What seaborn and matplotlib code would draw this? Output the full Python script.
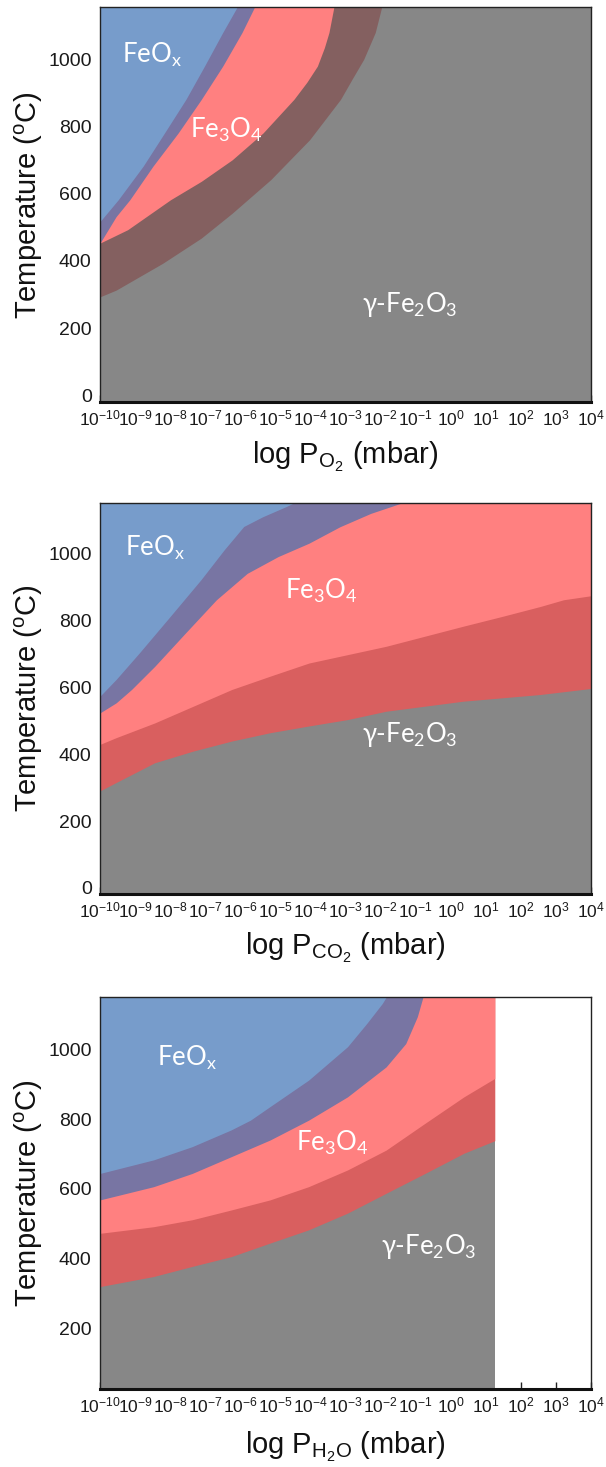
import numpy as np
import matplotlib
matplotlib.use("Agg")
import matplotlib.pyplot as plt
import matplotlib.ticker as mticker
import seaborn as sns

sns.set_theme(style="ticks")
plt.rcParams['font.family'] = ['Liberation Sans', 'DejaVu Sans']
plt.rcParams['mathtext.fontset'] = 'custom'
plt.rcParams['mathtext.rm'] = 'Liberation Sans'
plt.rcParams['mathtext.it'] = 'Liberation Sans:italic'

# ---------------- data (log10 P in mbar, temperature in C) ----------------
# Panel 1: O2
o2_feox_logp = [-10, -9.48, -8.77, -8.16, -7.55, -7.02, -6.50, -6.12, -5.6]
o2_feox_T    = [517, 582, 682, 781, 881, 980, 1080, 1150, 1250]
o2_mix1_logp = [-10, -9.54, -9.15, -8.49, -7.77, -7.11, -6.50, -5.95, -5.62, -5.2]
o2_mix1_T    = [453, 532, 582, 682, 781, 881, 980, 1080, 1150, 1250]
o2_fe3o4_logp = [-10, -9.21, -7.99, -7.11, -6.23, -5.35, -4.47, -4.1, -3.80, -3.6, -3.47, -3.34, -3.1]
o2_fe3o4_T    = [453, 493, 582, 637, 701, 781, 881, 932, 980, 1035, 1080, 1150, 1300]
o2_mix2_logp = [-10, -9.54, -8.21, -7.11, -6.23, -5.13, -4.02, -3.14, -2.8, -2.48, -2.15, -1.98, -1.8]
o2_mix2_T    = [293, 313, 393, 468, 542, 642, 761, 881, 943, 1000, 1080, 1150, 1300]
o2_end_logp = 4

# Panel 2: CO2
co2_feox_logp = [-10, -9.54, -8.88, -8.0, -7.12, -6.46, -5.9, -5.36, -4.7, -4.48, -4.0]
co2_feox_T    = [573, 623, 702, 811, 921, 1010, 1080, 1109, 1139, 1150, 1180]
co2_mix1_logp = [-10, -9.54, -9.1, -8.44, -7.56, -6.68, -5.8, -4.92, -4.04, -3.16, -2.28, -1.4, -0.8]
co2_mix1_T    = [523, 553, 593, 662, 762, 861, 940, 990, 1030, 1079, 1119, 1150, 1175]
co2_fe3o4_logp = [-10, -9.54, -8.44, -7.34, -6.24, -5.14, -4.04, -2.94, -1.84, -0.74, 0.36, 1.46, 2.56, 3.22, 4]
co2_fe3o4_T    = [429, 449, 493, 543, 593, 633, 672, 697, 722, 752, 782, 811, 841, 861, 873]
co2_mix2_logp = [-10, -9.54, -8.44, -7.34, -6.24, -5.14, -4.04, -2.94, -1.84, -0.74, 0.36, 1.46, 2.56, 4]
co2_mix2_T    = [290, 315, 374, 409, 439, 464, 484, 503, 528, 543, 558, 568, 578, 596]
co2_end_logp = 4

# Panel 3: H2O
h2o_feox_logp = [-10, -8.47, -7.37, -6.26, -5.71, -5.15, -4.05, -2.94, -2.39, -1.95, -1.84, -1.7]
h2o_feox_T    = [644, 683, 721, 769, 797, 836, 912, 1008, 1075, 1132, 1150, 1175]
h2o_mix1_logp = [-10, -8.47, -7.37, -6.26, -5.15, -4.05, -2.94, -1.84, -1.28, -0.95, -0.79, -0.7]
h2o_mix1_T    = [568, 606, 644, 692, 740, 797, 864, 950, 1017, 1094, 1150, 1190]
h2o_fe3o4_logp = [-10, -8.47, -7.37, -6.26, -5.15, -4.05, -2.94, -1.84, -0.73, 0.38, 1.26]
h2o_fe3o4_T    = [472, 491, 511, 539, 568, 606, 654, 711, 788, 864, 917]
h2o_mix2_logp = [-10, -8.47, -7.37, -6.26, -5.15, -4.05, -2.94, -1.84, -0.73, 0.38, 1.26]
h2o_mix2_T    = [319, 348, 377, 405, 444, 482, 530, 587, 644, 702, 738]
h2o_end_logp = 1.26

xlabels = [r"log P$_{\mathregular{O_2}}$ (mbar)",
           r"log P$_{\mathregular{CO_2}}$ (mbar)",
           r"log P$_{\mathregular{H_2O}}$ (mbar)"]
ylims = [(-20, 1155), (-18, 1150), (25, 1150)]
yticks = [[0, 200, 400, 600, 800, 1000], [0, 200, 400, 600, 800, 1000], [200, 400, 600, 800, 1000]]
phase_names = ["FeO$_\\mathregular{x}$", "Fe$_\\mathregular{3}$O$_\\mathregular{4}$",
               "γ-Fe$_\\mathregular{2}$O$_\\mathregular{3}$"]
# label anchor positions (log P, T): left edge, vertical centre
label_pos = [[(-9.37, 1012), (-7.43, 791), (-2.53, 269)],
             [(-9.29, 1015), (-4.72, 887), (-2.53, 458)],
             [(-8.37, 977), (-4.41, 731), (-1.99, 433)]]

# colours
c_feox = "#779ccb"
c_mix1 = "#7875a3"
c_fe3o4 = "#ff8080"
c_mix2 = ["#846060", "#d95f5f", "#d95f5f"]
c_fe2o3 = "#878787"

panels = [
    (o2_feox_logp, o2_feox_T, o2_mix1_logp, o2_mix1_T, o2_fe3o4_logp, o2_fe3o4_T, o2_mix2_logp, o2_mix2_T, o2_end_logp),
    (co2_feox_logp, co2_feox_T, co2_mix1_logp, co2_mix1_T, co2_fe3o4_logp, co2_fe3o4_T, co2_mix2_logp, co2_mix2_T, co2_end_logp),
    (h2o_feox_logp, h2o_feox_T, h2o_mix1_logp, h2o_mix1_T, h2o_fe3o4_logp, h2o_fe3o4_T, h2o_mix2_logp, h2o_mix2_T, h2o_end_logp),
]

fig = plt.figure(figsize=(6.06, 14.67), dpi=100)
axes_rects = [[0.165, 0.726, 0.810, 0.269],
              [0.165, 0.3906, 0.810, 0.2665],
              [0.165, 0.0532, 0.810, 0.267]]
xlabel_y = [-0.139, -0.138, -0.148]

TOP = 1400
for i, (p, rect) in enumerate(zip(panels, axes_rects)):
    ax = fig.add_axes(rect)
    ax.set_xscale('log')
    f_lp, f_T, m1_lp, m1_T, f3_lp, f3_T, m2_lp, m2_T, end_lp = p
    P = lambda a: 10.0 ** np.asarray(a, dtype=float)
    ax.fill_between(P([-10, end_lp]), [-200, -200], [TOP, TOP], color=c_fe2o3, lw=0)
    ax.fill_between(P(m2_lp), m2_T, TOP, color=c_mix2[i], lw=0)
    ax.fill_between(P(f3_lp), f3_T, TOP, color=c_fe3o4, lw=0)
    ax.fill_between(P(m1_lp), m1_T, TOP, color=c_mix1, lw=0)
    ax.fill_between(P(f_lp), f_T, TOP, color=c_feox, lw=0)

    ax.set_xlim(1e-10, 1e4)
    ax.set_ylim(*ylims[i])
    ax.set_xticks(10.0 ** np.arange(-10, 5))
    ax.xaxis.set_major_formatter(mticker.LogFormatterSciNotation())
    minor = [m * 10.0 ** d for d in range(-10, 4) for m in range(2, 10)]
    minor = [v for v in minor if np.log10(v) <= end_lp]
    ax.xaxis.set_minor_locator(mticker.FixedLocator(minor))
    ax.xaxis.set_minor_formatter(mticker.NullFormatter())
    ax.set_yticks(yticks[i])
    ax.yaxis.set_minor_locator(mticker.MultipleLocator(100))
    ax.tick_params(axis='both', which='both', direction='in', top=False, right=False,
                   colors='#222222', labelcolor='#1a1a1a')
    ax.tick_params(axis='y', which='major', length=5, width=1, labelsize=14, pad=6)
    ax.tick_params(axis='x', which='major', length=5, width=1, labelsize=12.5, pad=5)
    ax.tick_params(axis='both', which='minor', length=2.5, width=0.8)
    for s in ['left', 'top', 'right']:
        ax.spines[s].set_linewidth(1.0)
        ax.spines[s].set_color('#222222')
    ax.spines['bottom'].set_linewidth(2.2)
    ax.spines['bottom'].set_color('#111111')
    for sp in ax.spines.values():
        sp.set_zorder(5)

    ax.set_ylabel("Temperature ($^{\\mathregular{o}}$C)", fontsize=21, color='#111111')
    ax.yaxis.label.set_verticalalignment('center')
    ax.yaxis.set_label_coords(-0.145, 0.5)
    ax.set_xlabel(xlabels[i], fontsize=21, color='#111111')
    ax.xaxis.label.set_verticalalignment('center')
    ax.xaxis.set_label_coords(0.5, xlabel_y[i])

    for name, (lp, T) in zip(phase_names, label_pos[i]):
        ax.text(10.0 ** lp, T, name, color='white', fontsize=18.5,
                family=['Lato', 'DejaVu Sans'], ha='left', va='center', zorder=6)

fig.savefig("out.png", dpi=100)
